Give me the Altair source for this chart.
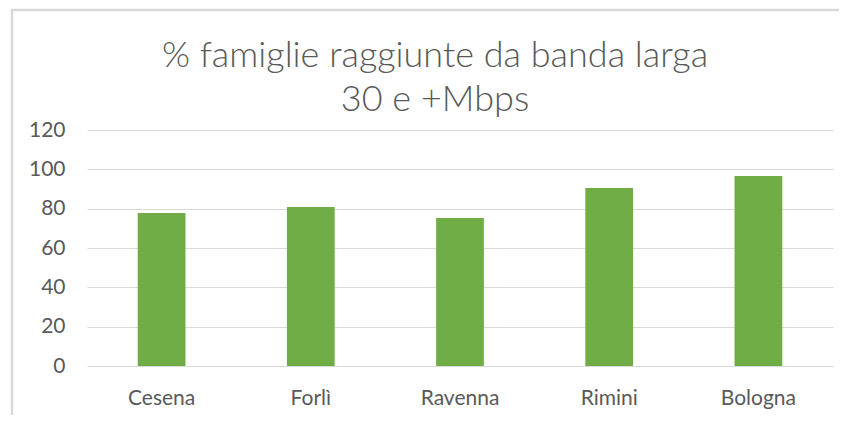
import altair as alt
import pandas as pd

cities = ["Cesena", "Forlì", "Ravenna", "Rimini", "Bologna"]
values = [77.8, 80.8, 75.3, 90.5, 96.6]
y_ticks = [0, 20, 40, 60, 80, 100, 120]
title_lines = ["% famiglie raggiunte da banda larga", "30 e +Mbps"]

df = pd.DataFrame({"city": cities, "value": values})

FONT = "Lato"
TXT = "#595959"
GRID = "#d9d9d9"

bars = alt.Chart(df).mark_bar(color="#70AD47").encode(
    x=alt.X(
        "city:N",
        sort=cities,
        title=None,
        scale=alt.Scale(paddingInner=0.68, paddingOuter=0.34),
        axis=alt.Axis(
            labelAngle=0, ticks=False, domain=False, grid=False,
            labelFont=FONT, labelFontSize=21, labelColor=TXT, labelPadding=21,
        ),
    ),
    y=alt.Y(
        "value:Q",
        title=None,
        scale=alt.Scale(domain=[0, 120], nice=False),
        axis=alt.Axis(
            values=y_ticks, ticks=False, domain=False, grid=True,
            gridColor=GRID, gridWidth=1,
            labelFont=FONT, labelFontSize=21, labelColor=TXT, labelPadding=22,
        ),
    ),
)

frame_left = alt.Chart(alt.Data(values=[{"a": 1}])).mark_rule(
    color=GRID, strokeWidth=2.5
).encode(x=alt.value(-75), y=alt.value(-120), y2=alt.value(500))

frame_top = alt.Chart(alt.Data(values=[{"a": 1}])).mark_rule(
    color=GRID, strokeWidth=2.5
).encode(x=alt.value(-76), x2=alt.value(900), y=alt.value(-120))

title1 = alt.Chart(alt.Data(values=[{"t": title_lines[0]}])).mark_text(
    font=FONT, fontSize=36, fontWeight=300, color=TXT, align="center", baseline="alphabetic"
).encode(text="t:N", x=alt.value(348), y=alt.value(-63))

title2 = alt.Chart(alt.Data(values=[{"t": title_lines[1]}])).mark_text(
    font=FONT, fontSize=36, fontWeight=300, color=TXT, align="center", baseline="alphabetic"
).encode(text="t:N", x=alt.value(348), y=alt.value(-19))

chart = alt.layer(frame_left, frame_top, bars, title1, title2).properties(
    width=746,
    height=236,
    padding={"left": 79, "top": 122, "right": 6, "bottom": 49},
    autosize=alt.AutoSizeParams(type="none"),
).configure_view(stroke=None)

chart.save("out.html", embed_options={"renderer": "svg", "actions": False})
